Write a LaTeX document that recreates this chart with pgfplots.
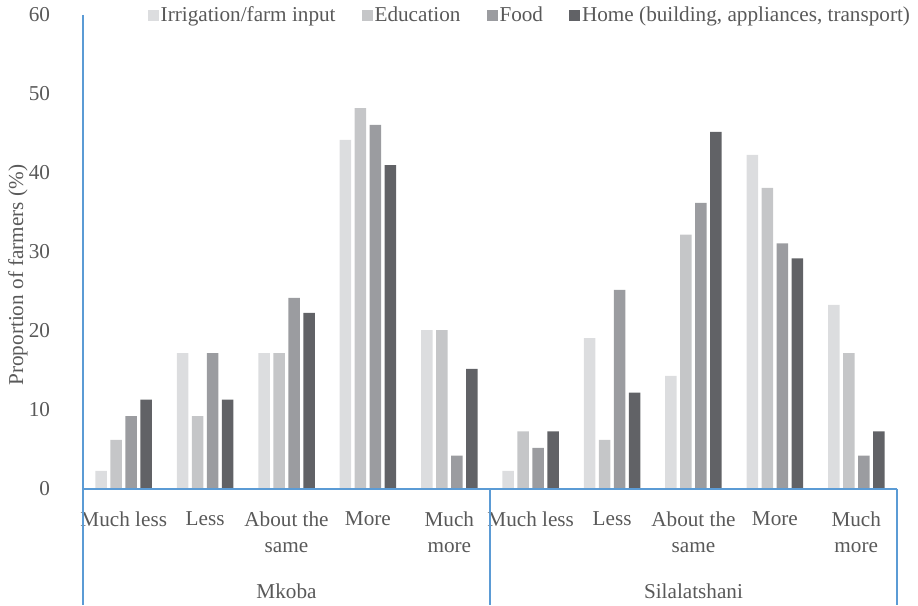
\documentclass[border=0pt]{standalone}
\usepackage{fontspec}
\setmainfont{Liberation Serif}
\usepackage{pgfplots}
\usepackage{pgfplotstable}
\pgfplotsset{compat=1.18}
\definecolor{txt}{HTML}{595959}
\definecolor{axblue}{HTML}{5B9BD5}
\definecolor{cIrr}{HTML}{DCDDDF}
\definecolor{cEdu}{HTML}{C5C6C8}
\definecolor{cFood}{HTML}{9B9CA0}
\definecolor{cHome}{HTML}{616266}

% x: 0-4 Mkoba, 5-9 Silalatshani
\pgfplotstableread{
x irr  edu  food home
0 2.3  6.2  9.2  11.3
1 17.2 9.2  17.2 11.3
2 17.2 17.2 24.2 22.3
3 44.2 48.2 46.1 41.0
4 20.1 20.1 4.2  15.2
5 2.3  7.3  5.2  7.3
6 19.1 6.2  25.2 12.2
7 14.3 32.2 36.2 45.2
8 42.3 38.1 31.1 29.2
9 23.3 17.2 4.2  7.3
}\datatable

\begin{document}
\begin{tikzpicture}
\begin{axis}[
  scale only axis,
  width=407pt, height=237pt,
  font=\fontsize{10.6}{13}\selectfont\color{txt},
  /pgf/number format/assume math mode=true,
  ybar=1.75pt, bar width=5.75pt,
  xmin=-0.5, xmax=9.5,
  ymin=0, ymax=60,
  ytick={0,10,...,60},
  xtick={0,...,9},
  xticklabels={Much less,Less,About the\\same,More,Much\\more,Much less,Less,About the\\same,More,Much\\more},
  xticklabel style={align=center, anchor=north, yshift=-3.5pt},
  yticklabel style={anchor=east, xshift=-13pt},
  axis line style={draw=none},
  tick style={draw=none},
  clip=false,
  ylabel={Proportion of farmers (\%)},
  ylabel style={at={(rel axis cs:-0.080,0.451)}, anchor=center, rotate=0},
  legend columns=4,
  legend style={draw=none, fill=none, at={(rel axis cs:0.549,0.998)}, anchor=center,
    font=\fontsize{10.6}{13}\selectfont\color{txt},
    /tikz/every even column/.append style={column sep=12pt},
    nodes={inner sep=1pt}},
  legend image code/.code={\fill[#1] (0pt,-2.75pt) rectangle (5.5pt,2.75pt);},
]
\addplot[fill=cIrr, draw=none] table[x=x, y=irr] {\datatable};
\addplot[fill=cEdu, draw=none] table[x=x, y=edu] {\datatable};
\addplot[fill=cFood, draw=none] table[x=x, y=food] {\datatable};
\addplot[fill=cHome, draw=none] table[x=x, y=home] {\datatable};
\legend{Irrigation/farm input, Education, Food, {Home (building, appliances, transport)}}

% axis frame lines
\draw[axblue, line width=1pt] (rel axis cs:0,1) -- (rel axis cs:0,-0.2447);
\draw[axblue, line width=1pt] (rel axis cs:0,0) -- (rel axis cs:1,0);
\draw[axblue, line width=1pt] (rel axis cs:0.5,0) -- (rel axis cs:0.5,-0.2447);
\draw[axblue, line width=1pt] (rel axis cs:1,0) -- (rel axis cs:1,-0.2447);
% group labels
\node[txt] at (rel axis cs:0.25,-0.215) {Mkoba};
\node[txt] at (rel axis cs:0.75,-0.215) {Silalatshani};
% picture extent
\path (rel axis cs:-0.102,-0.2447) rectangle (rel axis cs:1.0258,1.0316);
\end{axis}
\end{tikzpicture}
\end{document}
